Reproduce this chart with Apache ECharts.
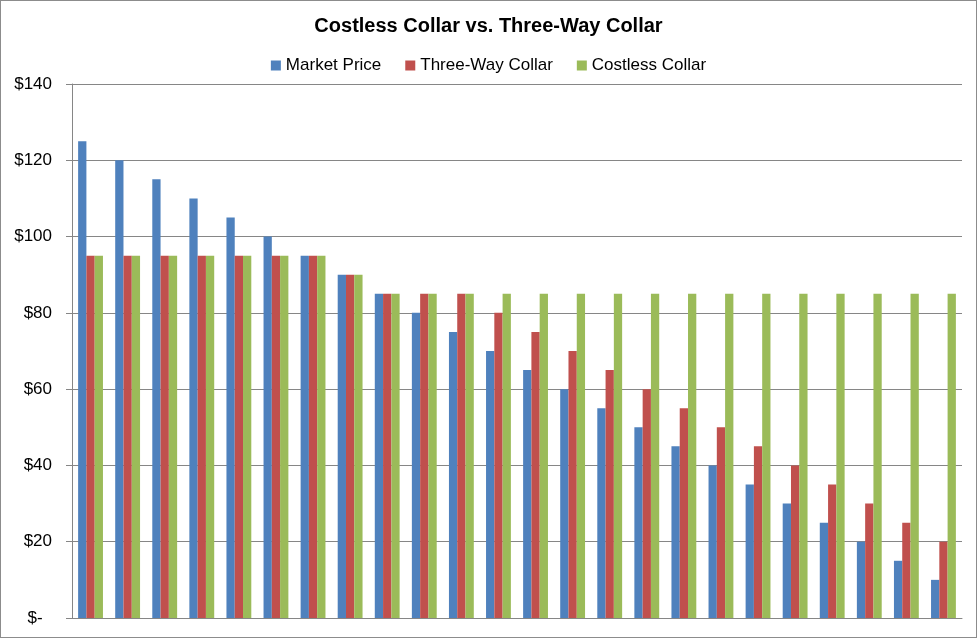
<!DOCTYPE html>
<html>
<head>
<meta charset="utf-8">
<script src="https://cdn.jsdelivr.net/npm/echarts@6/dist/echarts.min.js"></script>
<style>
html,body{margin:0;padding:0;background:#fff;}
#wrap{position:absolute;left:0;top:0;width:975px;height:636px;border:1px solid #8c8c8c;}
#chart{width:977px;height:638px;position:absolute;left:0;top:0;}
</style>
</head>
<body>
<div id="wrap"></div>
<div id="chart"></div>
<script>
var categories = ['1','2','3','4','5','6','7','8','9','10','11','12','13','14','15','16','17','18','19','20','21','22','23','24'];
var marketPrice = [125,120,115,110,105,100,95,90,85,80,75,70,65,60,55,50,45,40,35,30,25,20,15,10];
var threeWayCollar = [95,95,95,95,95,95,95,90,85,85,85,80,75,70,65,60,55,50,45,40,35,30,25,20];
var costlessCollar = [95,95,95,95,95,95,95,90,85,85,85,85,85,85,85,85,85,85,85,85,85,85,85,85];
var seriesNames = ['Market Price','Three-Way Collar','Costless Collar'];
var yTicks = {min:0, max:140, interval:20};

var chart = echarts.init(document.getElementById('chart'), null, {renderer:'canvas'});
var font = 'Liberation Sans, Arial, sans-serif';
var colors = ['#4F81BD','#C0504D','#9BBB59'];
chart.setOption({
  animation:false,
  color: colors,
  title:{
    text:'Costless Collar vs. Three-Way Collar',
    left:'center', top:11,
    textStyle:{fontFamily:font, fontSize:20, fontWeight:'bold', color:'#000'}
  },
  legend:{
    data: seriesNames,
    top:52, left:'center',
    icon:'rect', itemWidth:10, itemHeight:10, itemGap:24,
    textStyle:{fontFamily:font, fontSize:17, color:'#000'}
  },
  grid:{left:72, right:15, top:84, bottom:20, containLabel:false},
  xAxis:{
    type:'category', data:categories,
    axisLine:{show:true, lineStyle:{color:'#868686', width:1}},
    axisTick:{show:false}, axisLabel:{show:false}
  },
  yAxis:{
    type:'value', min:yTicks.min, max:yTicks.max, interval:yTicks.interval,
    axisLine:{show:true, lineStyle:{color:'#868686', width:1}},
    axisTick:{show:true, length:6, lineStyle:{color:'#868686'}},
    splitLine:{show:true, lineStyle:{color:'#868686', width:1}},
    axisLabel:{
      fontFamily:font, fontSize:17, color:'#000', margin:20,
      formatter:function(v){ return v===0 ? '$-  ' : '$'+v; }
    }
  },
  series:[
    {name:seriesNames[0], type:'bar', data:marketPrice, barGap:'0%', barCategoryGap:'33%'},
    {name:seriesNames[1], type:'bar', data:threeWayCollar, barGap:'0%', barCategoryGap:'33%'},
    {name:seriesNames[2], type:'bar', data:costlessCollar, barGap:'0%', barCategoryGap:'33%'}
  ]
});
</script>
</body>
</html>
